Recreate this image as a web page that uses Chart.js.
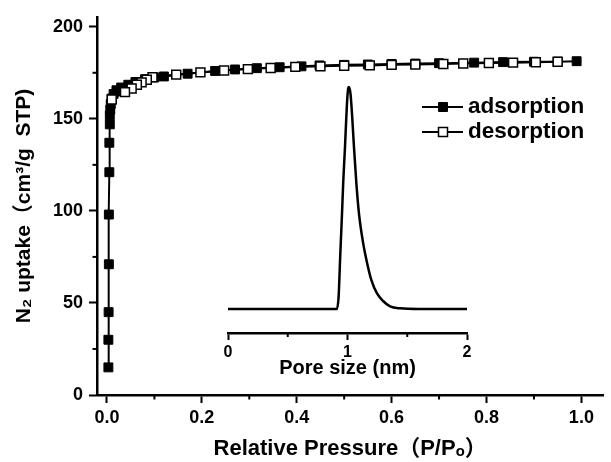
<!DOCTYPE html>
<html><head><meta charset="utf-8">
<script src="https://cdn.jsdelivr.net/npm/chart.js@4"></script>
<style>
html,body{margin:0;padding:0;background:#fff;}
#wrap{position:relative;width:611px;height:462px;background:#fff;}
#main{position:absolute;left:0;top:0;}
#inset{position:absolute;left:218px;top:70px;}
</style></head><body>
<div id="wrap"><canvas id="main" width="611" height="462"></canvas><canvas id="inset" width="260" height="320"></canvas></div>
<script>
// ---- data ----
const adsPressure = [0.003,0.003,0.0035,0.004,0.004,0.005,0.005,0.006,0.006,0.007,0.008,0.010,0.014,0.020,0.030,0.045,0.060,0.080,0.100,0.120,0.170,0.228,0.270,0.316,0.364,0.410,0.448,0.500,0.550,0.600,0.650,0.700,0.774,0.835,0.900,0.950,0.990];
const adsUptake   = [15,30,45,71,98,121,137,147,152,155,158,161,163.5,165.5,167,168.5,170,171.5,172.5,173,174.5,176,176.8,177.5,178,178.5,179,179.3,179.5,179.8,180,180.2,180.5,180.8,181,181,181.3];
const desPressure = [0.950,0.904,0.856,0.805,0.751,0.709,0.650,0.600,0.554,0.500,0.450,0.397,0.345,0.297,0.247,0.197,0.146,0.096,0.084,0.073,0.063,0.052,0.038,0.010];
const desUptake   = [181,180.7,180.5,180.3,180,179.8,179.5,179.3,179,178.8,178.5,178.2,177.6,177,176.2,175.2,174,172.6,171.2,169.8,168.5,166.5,164.5,160.5];
const xMajorTicks = [0,0.2,0.4,0.6,0.8,1.0];
const xMinorTicks = [0.1,0.3,0.5,0.7,0.9];
const yMajorTicks = [0,50,100,150,200];
const yMinorTicks = [25,75,125,175];
const poreSize = [0,0.5,0.91,0.925,0.94,0.954,0.965,0.979,0.995,1.005,1.013,1.025,1.04,1.054,1.075,1.096,1.13,1.163,1.2,1.247,1.3,1.356,1.44,1.6,2.0];
const poreDist = [0,0,0,0.05,0.25,0.43,0.58,0.73,0.92,0.99,1.0,0.97,0.86,0.73,0.56,0.43,0.30,0.21,0.13,0.07,0.035,0.012,0.003,0,0];
const insetMajorTicks = [0,1,2];
const insetMinorTicks = [0.5,1.5];
const seriesNames = ['adsorption','desorption'];
const xTitle = 'Relative Pressure（P/Pₒ）';
const yTitle = 'N₂ uptake（cm³/g  STP)';
const insetTitle = 'Pore size (nm)';

const FAM = "'Liberation Sans', Arial, 'Noto Sans CJK SC', sans-serif";

function minorTickPlugin(xMinor, yMinor, len){
  return {id:'minorTicks', afterDraw(chart){
    const ctx = chart.ctx, a = chart.chartArea;
    ctx.save(); ctx.strokeStyle = '#000'; ctx.lineWidth = 2;
    const xs = chart.scales.x, ys = chart.scales.y;
    for (const v of xMinor){ const p = xs.getPixelForValue(v); ctx.beginPath(); ctx.moveTo(p, a.bottom); ctx.lineTo(p, a.bottom + len); ctx.stroke(); }
    if (ys.options.display) for (const v of yMinor){ const p = ys.getPixelForValue(v); ctx.beginPath(); ctx.moveTo(a.left, p); ctx.lineTo(a.left - len, p); ctx.stroke(); }
    ctx.restore();
  }};
}

const legendPlugin = {id:'insideLegend', afterDraw(chart){
  const ctx = chart.ctx; ctx.save();
  const rows = [chart.data.datasets[0], chart.data.datasets[1]];
  rows.forEach((ds, i) => {
    const y = 107 + i * 25;
    ctx.strokeStyle = '#000'; ctx.lineWidth = 2;
    ctx.beginPath(); ctx.moveTo(422, y); ctx.lineTo(463, y); ctx.stroke();
    ctx.fillStyle = ds.pointBackgroundColor; ctx.lineWidth = ds.pointBorderWidth;
    ctx.beginPath(); ctx.rect(443 - 4.5, y - 4.5, 9, 9); ctx.fill(); ctx.stroke();
    ctx.fillStyle = '#000'; ctx.font = 'bold 22.5px ' + FAM; ctx.textBaseline = 'middle'; ctx.textAlign = 'left';
    ctx.fillText(ds.label, 468, y);
  });
  ctx.restore();
}};

const tickFont = {family: FAM, weight: 'bold', size: 18};

new Chart(document.getElementById('main'), {
  type: 'scatter',
  data: {datasets: [
    {label: seriesNames[0], data: adsPressure.map((x,i)=>({x, y: adsUptake[i]})), showLine: true, borderColor:'#000', borderWidth:2,
     pointStyle:'rect', pointRadius:6.3, pointBackgroundColor:'#000', pointBorderColor:'#000', pointBorderWidth:1, order:2},
    {label: seriesNames[1], data: desPressure.map((x,i)=>({x, y: desUptake[i]})), showLine: true, borderColor:'#000', borderWidth:2,
     pointStyle:'rect', pointRadius:6.3, pointBackgroundColor:'#fff', pointBorderColor:'#000', pointBorderWidth:1.5, order:1}
  ]},
  options: {
    responsive:false, animation:false, devicePixelRatio:1,
    layout:{padding:{top:13, right:3, left:0, bottom:0}},
    plugins:{legend:{display:false}, tooltip:{enabled:false}},
    scales:{
      x:{type:'linear', min:-0.021, max:1.046,
        afterBuildTicks: s => { s.ticks = xMajorTicks.map(v=>({value:v})); },
        afterFit: s => { s.height = 67; },
        grid:{drawOnChartArea:false, drawTicks:true, tickLength:8, tickWidth:2, tickColor:'#000'},
        border:{display:true, color:'#000', width:2.5},
        ticks:{padding:4, color:'#000', font:tickFont, autoSkip:false, maxRotation:0, callback: v => Number(v).toFixed(1)},
        title:{display:true, text:xTitle, color:'#000', font:{family:FAM, weight:'bold', size:22}, padding:{top:0, bottom:0}}
      },
      y:{type:'linear', min:0, max:205.4,
        afterBuildTicks: s => { s.ticks = yMajorTicks.map(v=>({value:v})); },
        afterFit: s => { s.width = 97; },
        grid:{drawOnChartArea:false, drawTicks:true, tickLength:8, tickWidth:2, tickColor:'#000'},
        border:{display:true, color:'#000', width:2.5},
        ticks:{padding:6, color:'#000', font:tickFont, callback: v => String(v)},
        title:{display:true, text:yTitle, color:'#000', font:{family:FAM, weight:'bold', size:21}, padding:{top:12, bottom:0}}
      }
    }
  },
  plugins:[minorTickPlugin(xMinorTicks, yMinorTicks, 4.5), legendPlugin]
});

new Chart(document.getElementById('inset'), {
  type: 'scatter',
  data: {datasets: [{data: poreSize.map((x,i)=>({x, y: poreDist[i]})), showLine:true, borderColor:'#000', borderWidth:2.5,
    pointRadius:0, cubicInterpolationMode:'monotone', fill:false}]},
  options: {
    responsive:false, animation:false, devicePixelRatio:1,
    layout:{padding:{top:10, left:10, right:11, bottom:0}},
    plugins:{legend:{display:false}, tooltip:{enabled:false}},
    scales:{
      x:{type:'linear', min:0, max:2,
        afterBuildTicks: s => { s.ticks = insetMajorTicks.map(v=>({value:v})); },
        afterFit: s => { s.height = 57; },
        grid:{drawOnChartArea:false, drawTicks:true, tickLength:7, tickWidth:2, tickColor:'#000'},
        border:{display:true, color:'#000', width:2.5},
        ticks:{padding:3, color:'#000', font:{family:FAM, weight:'bold', size:16}, autoSkip:false, maxRotation:0, callback: v => String(v)},
        title:{display:true, text:insetTitle, color:'#000', font:{family:FAM, weight:'bold', size:20}, padding:{top:0, bottom:10}}
      },
      y:{type:'linear', display:false, min:-0.108, max:1.0315}
    }
  },
  plugins:[minorTickPlugin(insetMinorTicks, [], 4)]
});
</script>
</body></html>
